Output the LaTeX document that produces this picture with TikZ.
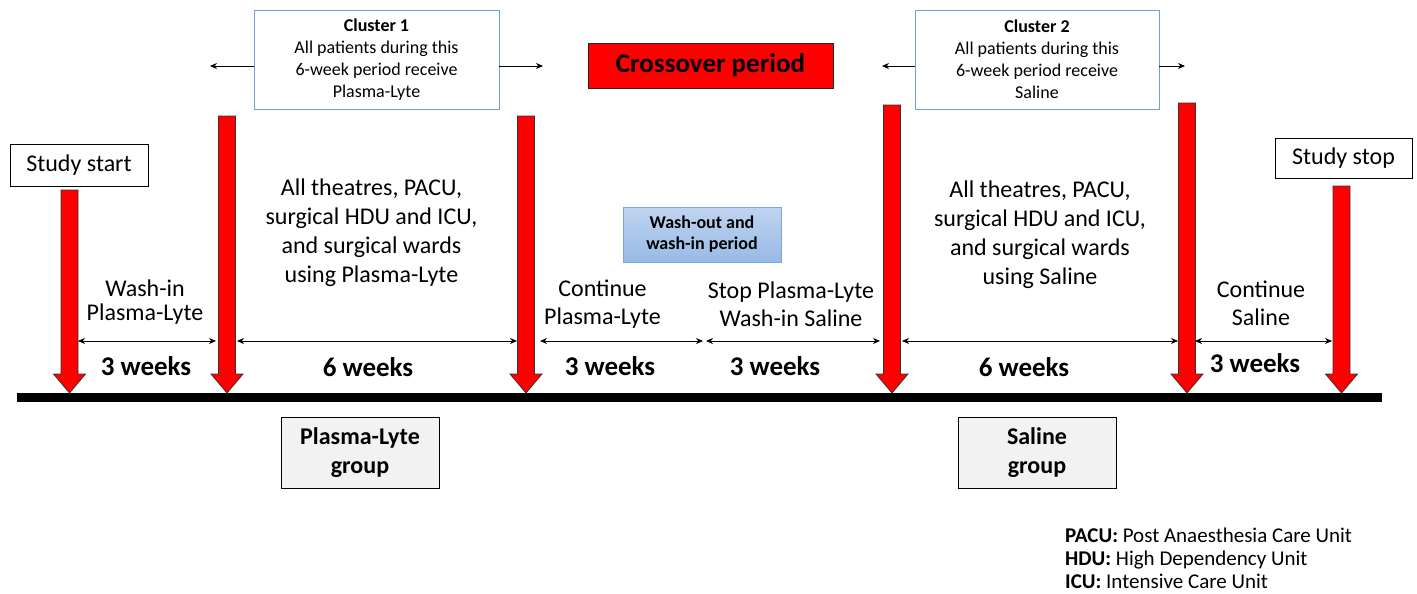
\documentclass[tikz,border=0pt]{standalone}
\usepackage{fontspec}
\setmainfont{Carlito}
\usetikzlibrary{arrows.meta}
\newcommand\fsz[2]{\fontsize{#1}{#2}\selectfont}
\definecolor{clusterblue}{RGB}{115,160,212}
\definecolor{washtop}{RGB}{192,212,240}
\definecolor{washbot}{RGB}{152,186,230}
\definecolor{washline}{RGB}{125,165,218}
\definecolor{groupgray}{RGB}{242,242,242}
\begin{document}
\begin{tikzpicture}[x=1pt,y=-1pt,
  box/.style={draw=black, line width=0.8pt, inner sep=0pt, align=center},
  txt/.style={align=center, inner sep=0pt, font=\fsz{24}{29}},
  wk/.style={inner sep=0pt, font=\fsz{27}{30}\bfseries},
  dbl/.style={{Stealth[length=7pt,width=6pt]}-{Stealth[length=7pt,width=6pt]}, line width=0.8pt},
  sgl/.style={-{Stealth[length=7pt,width=6pt]}, line width=0.8pt},
  redarr/.style={fill=red, draw=black!80, line width=0.8pt}]
\useasboundingbox (0,0) rectangle (1417,594);
\fill[white] (0,0) rectangle (1417,594);

% timeline
\node[fill=black, minimum width=1365pt, minimum height=9pt, inner sep=0pt, anchor=west] (timeline) at (17,397.5) {};

% red arrows
\foreach \x/\t in {69.5/190,227/116,526/116,892/105,1187/103,1341.5/186}
  \draw[redarr] (\x-8.5,\t) -- (\x+8.5,\t) -- (\x+8.5,374) -- (\x+16,374) -- (\x,393) -- (\x-16,374) -- (\x-8.5,374) -- cycle;

% boxes
\node[box, minimum width=138pt, minimum height=42pt, font=\fsz{24}{28}] (start) at (79,165) {Study start};
\node[box, minimum width=137pt, minimum height=40pt, font=\fsz{24}{28}] (stop) at (1343.5,158) {Study stop};

\node[box, draw=clusterblue, minimum width=245pt, minimum height=99pt, font=\fsz{18}{22}] (cl1) at (376.5,59.5)
  {\textbf{Cluster 1}\\All patients during this\\6-week period receive\\Plasma-Lyte};
\node[box, draw=clusterblue, minimum width=244pt, minimum height=99pt, font=\fsz{18}{22}] (cl2) at (1037,59.5)
  {\textbf{Cluster 2}\\All patients during this\\6-week period receive\\Saline};

\node[box, fill=red, draw=black!85, minimum width=245pt, minimum height=45pt, font=\fsz{27}{30}\bfseries] (cross) at (710.5,65.5) {Crossover period};

\node[box, draw=washline, top color=washtop, bottom color=washbot, minimum width=158pt, minimum height=55pt, font=\fsz{18}{21}\bfseries] (wash) at (702,234.5)
  {Wash-out and\\wash-in period};

\node[box, fill=groupgray, minimum width=158pt, minimum height=71pt, font=\fsz{24}{29}\bfseries] (plg) at (360,452.5) {Plasma-Lyte\\group};
\node[box, fill=groupgray, minimum width=158pt, minimum height=71pt, font=\fsz{24}{29}\bfseries] (sag) at (1037,452.5) {Saline\\group};

% cluster side arrows
\coordinate (c1l) at (210,66);
\coordinate (c1r) at (543,66);
\coordinate (c2l) at (882,66);
\coordinate (c2r) at (1185,66);
\draw[sgl] (c1l -| cl1.west) -- (c1l);
\draw[sgl] (c1r -| cl1.east) -- (c1r);
\draw[sgl] (c2l -| cl2.west) -- (c2l);
\draw[sgl] (c2r -| cl2.east) -- (c2r);

% period double arrows
\coordinate (a1) at (78,341);  \coordinate (a2) at (216,341);
\coordinate (b1) at (237,341); \coordinate (b2) at (517,341);
\coordinate (c1) at (540,341); \coordinate (c2) at (703,341);
\coordinate (d1) at (706,341); \coordinate (d2) at (880,341);
\coordinate (e1) at (902,341); \coordinate (e2) at (1178,341);
\coordinate (f1) at (1195,341); \coordinate (f2) at (1332,341);
\draw[dbl] (a1) -- (a2);
\draw[dbl] (b1) -- (b2);
\draw[dbl] (c1) -- (c2);
\draw[dbl] (d1) -- (d2);
\draw[dbl] (e1) -- (e2);
\draw[dbl] (f1) -- (f2);

% texts
\node[txt, font=\fsz{24}{24}] (washin) at (145,302) {Wash-in\\Plasma-Lyte};
\node[wk] (w1) at (146,366) {3 weeks};
\node[txt] (allpl) at (371.5,233) {All theatres, PACU,\\surgical HDU and ICU,\\and surgical wards\\using Plasma-Lyte};
\node[wk] (w2) at (368,367) {6 weeks};
\node[txt, font=\fsz{24}{28}] (contpl) at (602.5,304) {Continue\\Plasma-Lyte};
\node[wk] (w3) at (610,366) {3 weeks};
\node[txt, font=\fsz{24}{28}] (stoppl) at (791,304) {Stop Plasma-Lyte\\Wash-in Saline};
\node[wk] (w4) at (775,366) {3 weeks};
\node[txt] (allsa) at (1040,235) {All theatres, PACU,\\surgical HDU and ICU,\\and surgical wards\\using Saline};
\node[wk] (w5) at (1024,367) {6 weeks};
\node[txt, font=\fsz{24}{28}] (contsa) at (1261,303) {Continue\\Saline};
\node[wk] (w6) at (1255,363) {3 weeks};

% legend
\node[anchor=west, align=left, inner sep=0pt, font=\fsz{21}{23}] (legend) at (1065,558)
  {\textbf{PACU:} Post Anaesthesia Care Unit\\\textbf{HDU:} High Dependency Unit\\\textbf{ICU:} Intensive Care Unit};
\end{tikzpicture}
\end{document}
